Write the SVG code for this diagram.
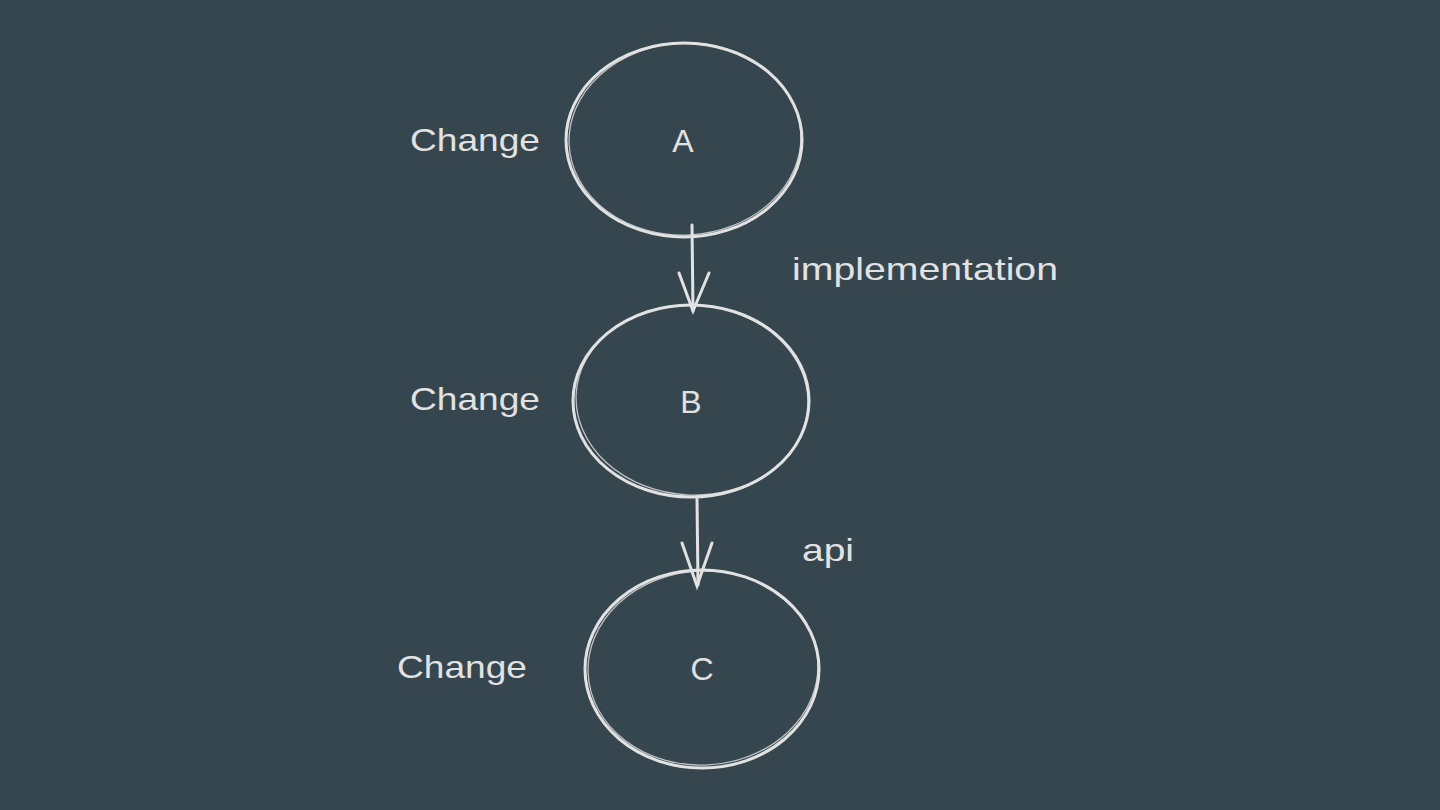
<svg xmlns="http://www.w3.org/2000/svg" width="1440" height="810" viewBox="0 0 1440 810">
<style>
.bg{fill:#36464f}
.shape{fill:none;stroke:#e2e2e2;stroke-width:3;stroke-linecap:round}
.sk{fill:none;stroke:#e2e2e2;stroke-width:1.3;opacity:0.8}
.t{font-family:"Liberation Sans",Arial,sans-serif;font-size:32px;fill:#e2e2e2}
.c{text-anchor:middle}
</style>
<rect class="bg" x="0" y="0" width="1440" height="810"/>
<g id="connectors">
  <g id="edge-a-b">
    <path class="shape" d="M692 225 L693 311"/>
    <path class="shape" d="M679 273 L693 311 L709 273"/>
  </g>
  <g id="edge-b-c">
    <path class="shape" d="M697 499 L698 585"/>
    <path class="shape" d="M682 543 L697 586 L712 543"/>
  </g>
  <text class="t" x="792" y="280" textLength="266" lengthAdjust="spacingAndGlyphs">implementation</text>
  <text class="t" x="802" y="561" textLength="52" lengthAdjust="spacingAndGlyphs">api</text>
</g>
<g id="node-a">
  <ellipse class="shape" cx="684" cy="140" rx="118" ry="97"/>
  <ellipse class="sk" cx="685" cy="139" rx="116" ry="96" transform="rotate(-3 685 139)"/>
  <text class="t c" x="683" y="152">A</text>
  <text class="t" x="410" y="151" textLength="130" lengthAdjust="spacingAndGlyphs">Change</text>
</g>
<g id="node-b">
  <ellipse class="shape" cx="691" cy="401" rx="118" ry="96"/>
  <ellipse class="sk" cx="692" cy="400" rx="116" ry="95" transform="rotate(3 692 400)"/>
  <text class="t c" x="691" y="413">B</text>
  <text class="t" x="410" y="410" textLength="130" lengthAdjust="spacingAndGlyphs">Change</text>
</g>
<g id="node-c">
  <ellipse class="shape" cx="702" cy="669" rx="117" ry="99"/>
  <ellipse class="sk" cx="703" cy="668" rx="115" ry="97" transform="rotate(-3 703 668)"/>
  <text class="t c" x="702" y="680">C</text>
  <text class="t" x="397" y="678" textLength="130" lengthAdjust="spacingAndGlyphs">Change</text>
</g>
</svg>
